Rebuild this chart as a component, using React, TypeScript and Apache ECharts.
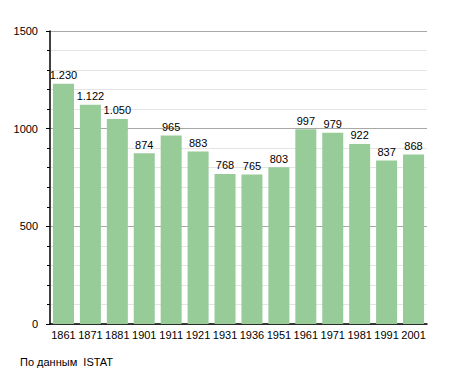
import React, { useEffect, useRef } from "react";
import * as echarts from "echarts";

const years = ["1861", "1871", "1881", "1901", "1911", "1921", "1931", "1936", "1951", "1961", "1971", "1981", "1991", "2001"];
const population = [1230, 1122, 1050, 874, 965, 883, 768, 765, 803, 997, 979, 922, 837, 868];
const sourceText = "По данным  ISTAT";

const fmt = (v: number) => {
  const s = String(v);
  return s.length > 3 ? s.slice(0, s.length - 3) + "." + s.slice(-3) : s;
};

export default function App() {
  const ref = useRef<HTMLDivElement>(null);
  useEffect(() => {
    const chart = echarts.init(ref.current!, null, { renderer: "svg" });
    chart.setOption({
      animation: false,
      textStyle: { fontFamily: "Liberation Sans, Arial, sans-serif" },
      grid: { left: 50, right: 28, top: 31, bottom: 49, containLabel: false },
      xAxis: {
        type: "category",
        data: years,
        axisLine: { lineStyle: { color: "#000", width: 1.5 } },
        axisTick: { show: false },
        axisLabel: { color: "#000", fontSize: 11, margin: 5, interval: 0 },
      },
      yAxis: {
        type: "value",
        min: 0,
        max: 1500,
        interval: 500,
        axisLine: { show: true, lineStyle: { color: "#000", width: 1.5 } },
        axisTick: { show: true, length: 4, lineStyle: { color: "#000" } },
        minorTick: { show: true, splitNumber: 5, length: 3, lineStyle: { color: "#000" } },
        axisLabel: { color: "#000", fontSize: 11, margin: 12, formatter: (v: number) => String(v) },
        splitLine: { show: true, lineStyle: { color: "#a8a8a8", width: 1 } },
        minorSplitLine: { show: true, lineStyle: { color: "#e4e4e4", width: 1 } },
      },
      series: [
        {
          type: "bar",
          data: population,
          barWidth: "78%",
          itemStyle: { color: "#97cb98" },
          label: {
            show: true,
            position: "top",
            distance: 3,
            color: "#000",
            fontSize: 11,
            formatter: (p: any) => fmt(p.value),
          },
        },
      ],
      graphic: [
        {
          type: "text",
          left: 20,
          top: 356,
          style: { text: sourceText, fontSize: 11, fill: "#000", fontFamily: "Liberation Sans, Arial, sans-serif" },
        },
      ],
    });
    return () => chart.dispose();
  }, []);
  return <div ref={ref} style={{ width: 455, height: 373, position: "absolute", left: 0, top: 0 }} />;
}
